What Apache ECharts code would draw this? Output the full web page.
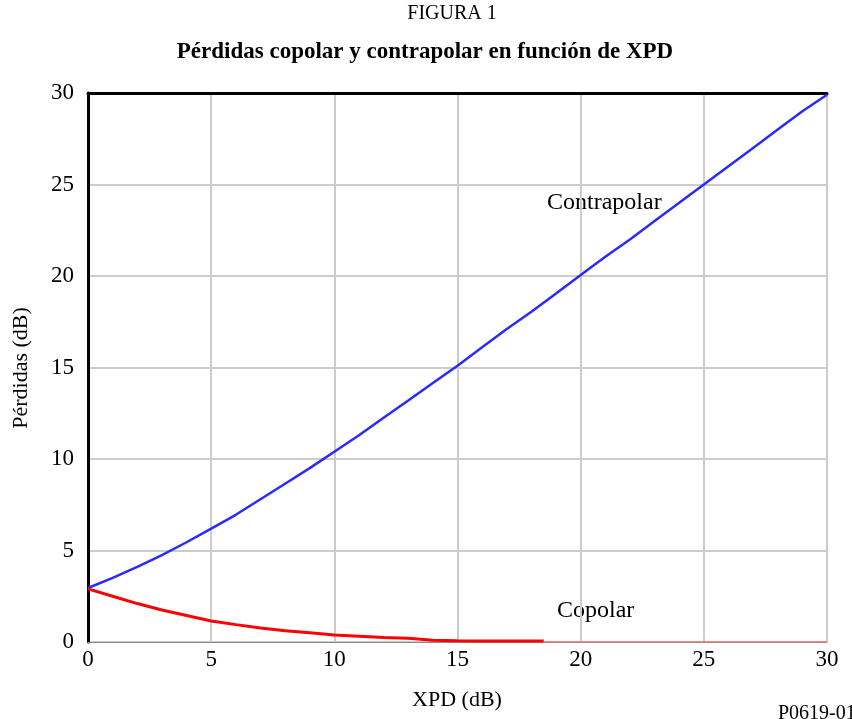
<!DOCTYPE html>
<html><head><meta charset="utf-8">
<script src="https://cdn.jsdelivr.net/npm/echarts@6/dist/echarts.min.js"></script>
<style>html,body{margin:0;padding:0;background:#fff}#c{width:852px;height:719px}</style>
</head><body><div id="c"></div>
<script>
var xpd = [0,1,2,3,4,5,6,7,8,9,10,11,12,13,14,15,16,17,18,19,20,21,22,23,24,25,26,27,28,29,30];
var contrapolar = [2.95,3.5,4.1,4.75,5.45,6.2,6.95,7.8,8.65,9.5,10.4,11.3,12.25,13.2,14.15,15.1,16.1,17.1,18.05,19.05,20.05,21.05,22.0,23.0,24.0,25.0,26.0,27.0,28.0,29.0,29.9];
var copolarX = [0,1,2,3,4,5,6,7,8,9,10,11,12,13,14,15,16,17,18,18.5];
var copolarY = [2.9,2.5,2.1,1.75,1.45,1.15,0.95,0.76,0.62,0.5,0.38,0.32,0.25,0.2,0.1,0.07,0.06,0.05,0.05,0.05];
var copolarTailX = [18.5,30];
var copolarTailY = [0,0];
var xTicks = [0,5,10,15,20,25,30];
var yTicks = [0,5,10,15,20,25,30];

function pairs(xs, ys){ return xs.map(function(x,i){ return [x, ys[i]]; }); }

var font = '"Liberation Serif", "Times New Roman", serif';
var chart = echarts.init(document.getElementById('c'), null, {renderer:'canvas'});
chart.setOption({
  animation:false,
  backgroundColor:'#fff',
  textStyle:{fontFamily:font},
  grid:{left:88, right:25, top:93, bottom:77, containLabel:false},
  xAxis:[{
    type:'value', min:0, max:30, interval:5,
    axisLine:{show:true, lineStyle:{color:'#888888', width:1}}, axisTick:{show:false},
    axisLabel:{fontFamily:font, fontSize:23, color:'#000', margin:6,
      formatter:function(v){ return xTicks.indexOf(v) >= 0 ? String(v) : ''; }},
    splitLine:{show:true, lineStyle:{color:'#cccccc', width:2}}
  },{
    type:'value', min:0, max:30, position:'top',
    axisLine:{show:true, lineStyle:{color:'#000', width:3}},
    axisTick:{show:false}, axisLabel:{show:false}, splitLine:{show:false}
  }],
  yAxis:{
    type:'value', min:0, max:30, interval:5,
    axisLine:{show:true, lineStyle:{color:'#000', width:3}},
    axisTick:{show:false},
    axisLabel:{fontFamily:font, fontSize:23, color:'#000', margin:14,
      formatter:function(v){ return yTicks.indexOf(v) >= 0 ? String(v) : ''; }},
    splitLine:{show:true, lineStyle:{color:'#cccccc', width:2}}
  },
  series:[
    {type:'line', name:'Contrapolar', data:pairs(xpd, contrapolar), showSymbol:false,
     lineStyle:{color:'#2a2aff', width:2.5}, z:3},
    {type:'line', name:'Copolar', data:pairs(copolarX, copolarY), showSymbol:false,
     lineStyle:{color:'#ff0000', width:3}, z:3},
    {type:'line', name:'Copolar tail', data:pairs(copolarTailX, copolarTailY), showSymbol:false,
     lineStyle:{color:'#ff7070', width:1.5}, z:3}
  ],
  graphic:[
    {type:'text', x:452, y:14, style:{text:'FIGURA 1', font:'20px '+font, fill:'#000', textAlign:'center', textVerticalAlign:'middle'}},
    {type:'text', x:425, y:52, style:{text:'Pérdidas copolar y contrapolar en función de XPD', font:'bold 23px '+font, fill:'#000', textAlign:'center', textVerticalAlign:'middle'}},
    {type:'text', x:21, y:368, rotation:Math.PI/2, style:{text:'Pérdidas (dB)', font:'22px '+font, fill:'#000', textAlign:'center', textVerticalAlign:'middle'}},
    {type:'text', x:457, y:700, style:{text:'XPD (dB)', font:'22px '+font, fill:'#000', textAlign:'center', textVerticalAlign:'middle'}},
    {type:'text', x:547, y:203, style:{text:'Contrapolar', font:'24px '+font, fill:'#000', textAlign:'left', textVerticalAlign:'middle'}},
    {type:'text', x:557, y:611, style:{text:'Copolar', font:'24px '+font, fill:'#000', textAlign:'left', textVerticalAlign:'middle'}},
    {type:'text', x:778, y:714, style:{text:'P0619-01', font:'20px '+font, fill:'#000', textAlign:'left', textVerticalAlign:'middle'}}
  ]
});
</script></body></html>
